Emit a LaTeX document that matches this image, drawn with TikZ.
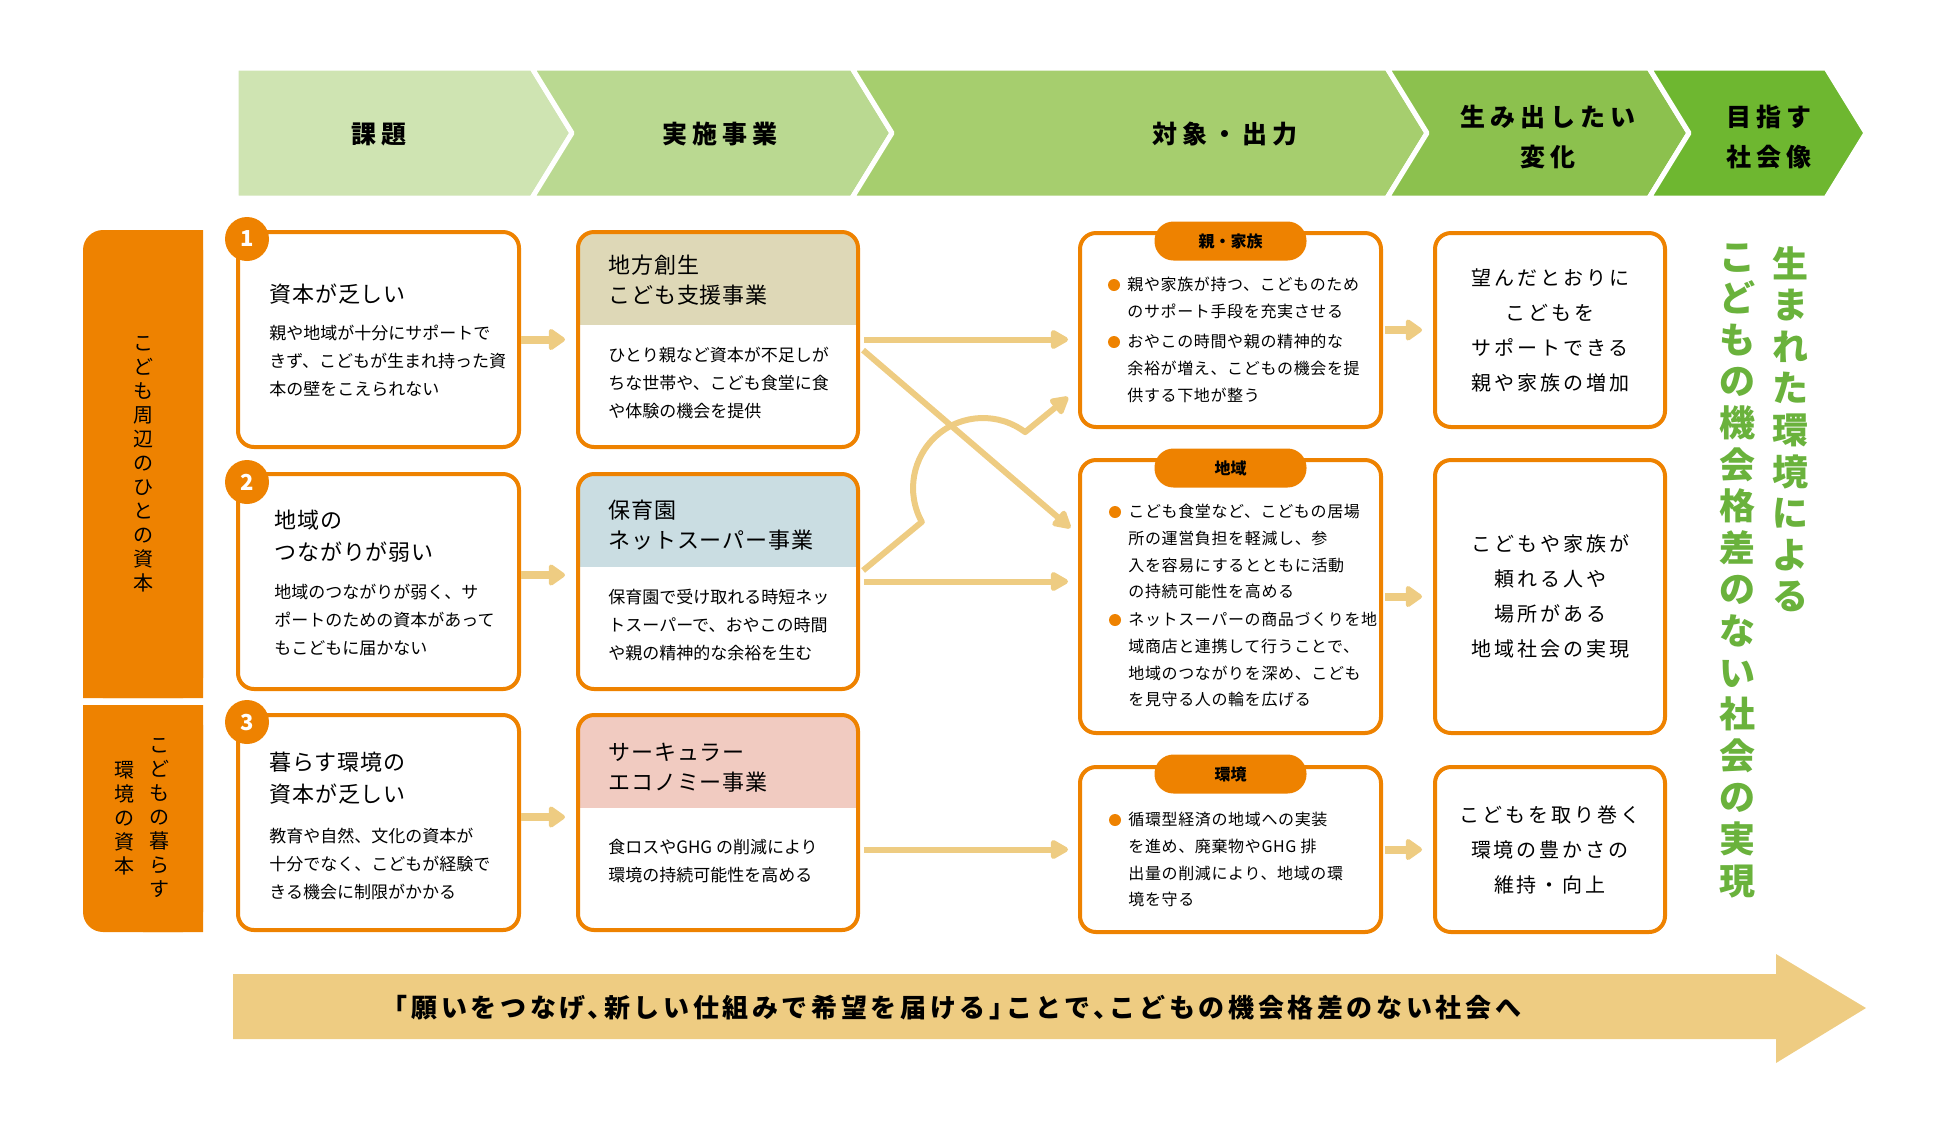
\documentclass[tikz,border=0pt]{standalone}
\usepackage{fontspec}
\setmainfont{Noto Sans CJK JP}
\usetikzlibrary{arrows.meta,positioning,calc}

\definecolor{ora}{RGB}{238,130,0}
\definecolor{arw}{RGB}{238,204,130}
\definecolor{grn}{RGB}{106,178,60}
\definecolor{hdA}{RGB}{207,228,178}
\definecolor{hdB}{RGB}{186,217,145}
\definecolor{hdC}{RGB}{166,206,110}
\definecolor{hdD}{RGB}{140,193,78}
\definecolor{hdE}{RGB}{110,183,48}
\definecolor{prjA}{RGB}{222,216,183}
\definecolor{prjB}{RGB}{202,221,226}
\definecolor{prjC}{RGB}{241,203,193}

\tikzset{
 box/.style={draw=ora,line width=2pt,rounded corners=8pt,fill=white,inner sep=0pt},
 iss/.style={box,minimum width=140.5pt,minimum height=107.5pt},
 prj/.style={box,minimum width=140pt,minimum height=107.5pt,
  path picture={\fill[#1,sharp corners] (path picture bounding box.north west) rectangle ([yshift=-46.5pt]path picture bounding box.north east);}},
 outbox/.style={box,minimum width=150.5pt},
 chg/.style={box,minimum width=115pt,align=center,font=\fontsize{10}{17.5}\selectfont\addfontfeature{LetterSpace=15}},
 hdtxt/.style={align=center,inner sep=0pt,font=\fontsize{12.5}{20}\selectfont\bfseries\addfontfeature{LetterSpace=20}},
 ttl/.style={anchor=north west,align=left,inner sep=0pt,font=\fontsize{11}{16}\selectfont\addfontfeature{LetterSpace=4}},
 bdy/.style={anchor=north west,align=left,inner sep=0pt,font=\fontsize{8.5}{14}\selectfont},
 bul/.style={anchor=north west,align=left,inner sep=0pt,font=\fontsize{8}{13.3}\selectfont\addfontfeature{LetterSpace=4}},
 num/.style={circle,fill=ora,minimum size=22pt,inner sep=0pt,text=white,font=\fontsize{11}{11}\selectfont\bfseries},
 tagbox/.style={fill=ora,rounded corners=9.5pt,minimum width=76pt,minimum height=19.5pt,inner sep=0pt,font=\fontsize{8}{8}\selectfont\bfseries},
 vtxt/.style={align=center,inner sep=0pt,font=\fontsize{10}{12}\selectfont},
 gtxt/.style={anchor=north,align=center,inner sep=0pt,text=grn,font=\fontsize{18}{20.8}\selectfont\bfseries},
 arrS/.style={draw=arw,line width=4pt,-{Triangle[length=9pt,width=12pt,round]},shorten >=5.5pt},
 arrL/.style={draw=arw,line width=3pt,-{Triangle[length=10pt,width=10.5pt,round]},shorten >=5pt,shorten <=2pt}
}

\begin{document}
\begin{tikzpicture}[x=.5pt,y=-.5pt,line join=round]
\useasboundingbox (0,0) rectangle (1950,1121);
% header band
\foreach \xa/\xb/\nt/\col in {236/532/0/hdA,532/852/40/hdB,852/1387/40/hdC,1387/1649/40/hdD,1649/1826/40/hdE}
 \fill[\col,draw=white,line width=2.5pt] (\xa,68) -- (\xb,68) -- (\xb+40,133) -- (\xb,198) -- (\xa,198) -- (\xa+\nt,133) -- cycle;
\node[hdtxt] (h1) at (379,134) {課題};
\node[hdtxt] (h2) at (720,134) {実施事業};
\node[hdtxt] (h3) at (1225,134) {対象・出力};
\node[hdtxt] (h4) at (1548,137) {生み出したい\\変化};
\node[hdtxt] (h5) at (1769,137) {目指す\\社会像};

% left bars
\fill[ora,rounded corners=10pt] (83,230) rectangle (203,698);
\fill[ora] (143,230) rectangle (203,698) (83,400) rectangle (203,698);
\fill[ora,rounded corners=10pt] (83,705) rectangle (203,932);
\fill[ora] (143,705) rectangle (203,932) (83,705) rectangle (203,800);
\node[vtxt] (v1) at (143,464) {こ\\ど\\も\\周\\辺\\の\\ひ\\と\\の\\資\\本};
\node[vtxt] (v2a) at (159,818) {こ\\ど\\も\\の\\暮\\ら\\す};
\node[vtxt] (v2b) at (124,818) {環\\境\\の\\資\\本};

% issues
\node[iss] (iss1) at (378.5,339.5) {};
\node[iss] (iss2) at (378.5,581.5) {};
\node[iss] (iss3) at (378.5,822.5) {};
\node[num] (n1) at (247,239) {1};
\node[num] (n2) at (247,482) {2};
\node[num] (n3) at (247,722) {3};
\node[ttl] (iss1t) at (269,283) {資本が乏しい};
\node[bdy] (iss1b) at (269,325) {親や地域が十分にサポートで\\きず、こどもが生まれ持った資\\本の壁をこえられない};
\node[ttl] (iss2t) at (274,510) {地域の\\つながりが弱い};
\node[bdy] (iss2b) at (274,584) {地域のつながりが弱く、サ\\ポートのための資本があって\\もこどもに届かない};
\node[ttl] (iss3t) at (269,752) {暮らす環境の\\資本が乏しい};
\node[bdy] (iss3b) at (269,828) {教育や自然、文化の資本が\\十分でなく、こどもが経験で\\きる機会に制限がかかる};

% projects
\node[prj=prjA] (prj1) at (718,339.5) {};
\node[prj=prjB] (prj2) at (718,581.5) {};
\node[prj=prjC] (prj3) at (718,822.5) {};
\node[ttl,font=\fontsize{11}{15}\selectfont\addfontfeature{LetterSpace=4}] (prj1t) at (608,255) {地方創生\\こども支援事業};
\node[bdy] (prj1b) at (608,347) {ひとり親など資本が不足しが\\ちな世帯や、こども食堂に食\\や体験の機会を提供};
\node[ttl,font=\fontsize{11}{15}\selectfont\addfontfeature{LetterSpace=4}] (prj2t) at (608,500) {保育園\\ネットスーパー事業};
\node[bdy] (prj2b) at (608,589) {保育園で受け取れる時短ネッ\\トスーパーで、おやこの時間\\や親の精神的な余裕を生む};
\node[ttl,font=\fontsize{11}{15}\selectfont\addfontfeature{LetterSpace=4}] (prj3t) at (608,743) {サーキュラー\\エコノミー事業};
\node[bdy] (prj3b) at (608,839) {食ロスやGHG の削減により\\環境の持続可能性を高める};

% outputs
\node[outbox,minimum height=97pt] (out1) at (1230.5,330) {};
\node[outbox,minimum height=136.5pt] (out2) at (1230.5,596.5) {};
\node[outbox,minimum height=82.5pt] (out3) at (1230.5,849.5) {};
\node[tagbox] (tg1) at (1230.5,241) {親・家族};
\node[tagbox] (tg2) at (1230.5,468) {地域};
\node[tagbox] (tg3) at (1230.5,774) {環境};
\node[bul] (b11) at (1127,277) {親や家族が持つ、こどものため\\のサポート手段を充実させる};
\node[bul] (b12) at (1127,334) {おやこの時間や親の精神的な\\余裕が増え、こどもの機会を提\\供する下地が整う};
\node[bul] (b21) at (1128,504) {こども食堂など、こどもの居場\\所の運営負担を軽減し、参\\入を容易にするとともに活動\\の持続可能性を高める};
\node[bul] (b22) at (1128,612) {ネットスーパーの商品づくりを地\\域商店と連携して行うことで、\\地域のつながりを深め、こども\\を見守る人の輪を広げる};
\node[bul] (b31) at (1128,812) {循環型経済の地域への実装\\を進め、廃棄物やGHG 排\\出量の削減により、地域の環\\境を守る};
\foreach \b in {b11,b12,b21,b22,b31}
 \fill[ora] ([shift={(-13,8)}]\b.north west) circle (3pt);

% changes
\node[chg,minimum height=97pt] (chg1) at (1550,330) {望んだとおりに\\こどもを\\サポートできる\\親や家族の増加};
\node[chg,minimum height=136.5pt] (chg2) at (1550,596.5) {こどもや家族が\\頼れる人や\\場所がある\\地域社会の実現};
\node[chg,minimum height=82.5pt] (chg3) at (1550,849.5) {こどもを取り巻く\\環境の豊かさの\\維持・向上};

% vision
\node[gtxt] (g1) at (1790,246) {生\\ま\\れ\\た\\環\\境\\に\\よ\\る};
\node[gtxt] (g2) at (1737,243) {こ\\ど\\も\\の\\機\\会\\格\\差\\の\\な\\い\\社\\会\\の\\実\\現};

% connectors
\draw[arrS] (iss1.east) -- (prj1.west);
\draw[arrS] ([yshift=3.25pt]iss2.east) -- ([yshift=3.25pt]prj2.west);
\draw[arrS] ([yshift=2.75pt]iss3.east) -- ([yshift=2.75pt]prj3.west);
\draw[arrL] (prj1.east) -- (prj1.east -| out1.west);
\draw[arrL] ([yshift=-4pt]prj1.east) -- ([yshift=31pt]out2.west);
\draw[arrL] (prj2.east) -- (prj2.east -| out2.west);
\draw[arrL,shorten >=6.4pt] ([yshift=4.25pt]prj2.east) -- (921.8,521.9)
 .. controls (905.8,493) and (912.2,456.9) .. (937.1,435.2)
 .. controls (962,413.5) and (998.7,412.2) .. (1025.1,432.1) -- ([yshift=-29.5pt]out1.west);
\draw[arrL] (out3.west -| prj3.east) -- (out3.west);
\draw[arrS,shorten <=1pt] (out1.east) -- (chg1.west);
\draw[arrS,shorten <=1pt] (out2.east) -- (chg2.west);
\draw[arrS,shorten <=1pt] (out3.east) -- (chg3.west);

% bottom arrow
\fill[arw] (233,974) -- (1776,974) -- (1776,954) -- (1866,1008) -- (1776,1063) -- (1776,1039) -- (233,1039) -- cycle;
\node[font=\fontsize{13}{13}\selectfont\bfseries\addfontfeature{LetterSpace=14,RawFeature=+halt}] (goal) at (958,1008) {「願いをつなげ、新しい仕組みで希望を届ける」ことで、こどもの機会格差のない社会へ};
\end{tikzpicture}
\end{document}
